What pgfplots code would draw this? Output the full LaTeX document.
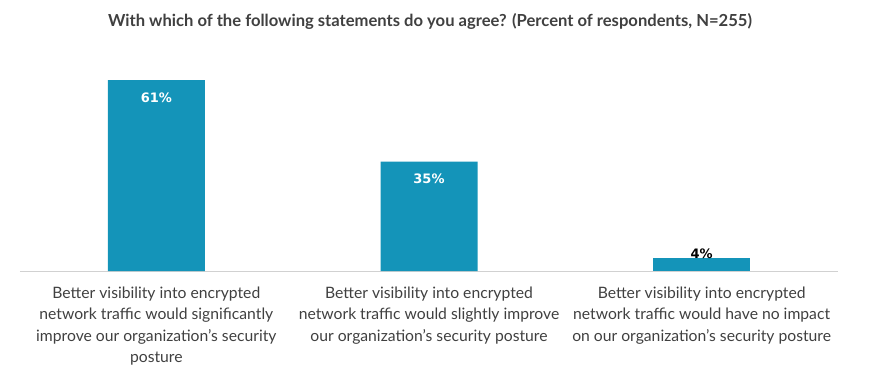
\documentclass[border=0pt]{standalone}
\usepackage{fontspec}
\setmainfont{Lato}
\newfontfamily\dv{DejaVu Sans}
\usepackage{pgfplots}
\pgfplotsset{compat=1.18}
\definecolor{barc}{HTML}{1494B9}
\definecolor{txt}{HTML}{404040}
\begin{document}
\begin{tikzpicture}
\useasboundingbox (0pt,0pt) rectangle (870pt,-389pt);
\node[font=\bfseries\fontsize{16.6}{19}\selectfont, text=txt] at (430pt,-21pt) {With which of the following statements do you agree? (Percent of respondents, N=255)};
\begin{axis}[
  at={(20pt,-271pt)}, anchor=south west, scale only axis,
  width=818pt, height=219pt,
  xmin=-0.5, xmax=2.5, ymin=0, ymax=70,
  axis x line*=bottom, axis y line=none,
  x axis line style={-, draw=black!18, line width=0.8pt},
  xtick={0,1,2}, major tick length=0pt, ytick=\empty,
  xticklabels={{Better visibility into encrypted\\network traffic would significantly\\improve our organization’s security\\posture},
               {Better visibility into encrypted\\network traffic would slightly improve\\our organization’s security posture},
               {Better visibility into encrypted\\network traffic would have no impact\\on our organization’s security posture}},
  xticklabel style={align=center, font=\fontsize{15.7}{21.5}\selectfont, text=txt, yshift=-12pt},
  ybar, bar width=97pt, bar shift=0pt,
  /pgf/number format/assume math mode=true,
  nodes near coords={\pgfmathprintnumber{\pgfplotspointmeta}\%},
]
\addplot[fill=barc, draw=none,
  every node near coord/.append style={anchor=north, yshift=-9pt, text=white, font=\dv\bfseries\fontsize{13}{15}\selectfont}]
  coordinates {(0,61) (1,35)};
\addplot[fill=barc, draw=none,
  every node near coord/.append style={anchor=center, yshift=5pt, text=black, font=\dv\bfseries\fontsize{13}{15}\selectfont}]
  coordinates {(2,4)};
\end{axis}
\end{tikzpicture}
\end{document}
